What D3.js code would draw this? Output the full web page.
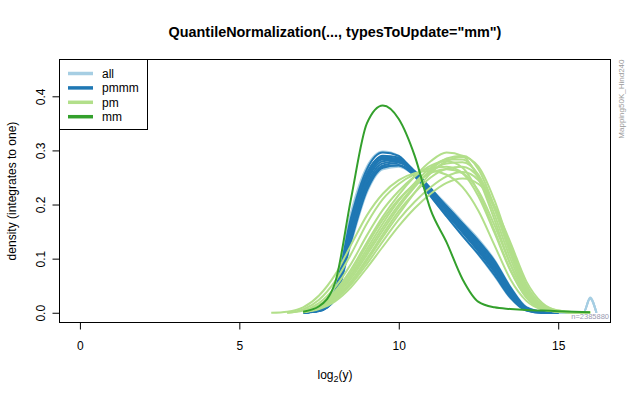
<!DOCTYPE html>
<html lang="en">
<head>
<meta charset="UTF-8">
<title>QuantileNormalization density</title>
<script src="https://d3js.org/d3.v7.min.js"></script>
<style>
    body { margin: 0; background: #fff; }
    svg { font-family: "Liberation Sans", Arial, sans-serif; display: block; }
    .curve { fill: none; stroke-width: 2; stroke-linejoin: round; }
</style>
</head>
<body>
<svg id="chart" width="640" height="395"></svg>
<script>
    // x grid (log2 units) shared by pmmm, pm and mm curves
    const xGrid = [6.0, 6.5, 7.0, 7.5, 8.0, 8.5, 9.0, 9.5, 10.0, 10.5, 11.0, 11.5,
                   12.0, 12.5, 13.0, 13.5, 14.0, 14.5, 15.0, 15.5, 16.0, 16.5];
    const n = null;

    const mmCurve = [n, n, 0.002, 0.012, 0.055, 0.21, 0.35, 0.383, 0.358, 0.29, 0.19, 0.13,
                     0.062, 0.02, 0.01, 0.007, 0.005, 0.004, 0.003, 0.002, 0.001, n];

    const pmmmCurves = [
        [n, n, 0, 0.006, 0.040, 0.175, 0.265, 0.296, 0.290, 0.255, 0.215, 0.178, 0.142, 0.108, 0.070, 0.028, 0.004, 0, 0, n, n, n],
        [n, n, 0, 0.005, 0.035, 0.165, 0.255, 0.290, 0.287, 0.258, 0.220, 0.183, 0.148, 0.113, 0.075, 0.031, 0.005, 0, 0, n, n, n],
        [n, n, 0, 0.005, 0.033, 0.158, 0.250, 0.285, 0.285, 0.260, 0.224, 0.188, 0.152, 0.118, 0.080, 0.035, 0.006, 0.001, 0, n, n, n],
        [n, n, 0, 0.004, 0.030, 0.150, 0.243, 0.280, 0.283, 0.262, 0.228, 0.192, 0.157, 0.122, 0.084, 0.038, 0.007, 0.001, 0, n, n, n],
        [n, n, 0, 0.004, 0.028, 0.142, 0.237, 0.276, 0.280, 0.260, 0.230, 0.195, 0.160, 0.126, 0.088, 0.041, 0.008, 0.001, 0, n, n, n],
        [n, n, 0, 0.004, 0.027, 0.138, 0.232, 0.272, 0.277, 0.258, 0.228, 0.196, 0.163, 0.130, 0.092, 0.044, 0.009, 0.001, 0, n, n, n],
        [n, n, 0, 0.003, 0.025, 0.132, 0.226, 0.268, 0.273, 0.255, 0.227, 0.197, 0.165, 0.133, 0.096, 0.047, 0.010, 0.002, 0, n, n, n],
        [n, n, 0, 0.005, 0.036, 0.168, 0.258, 0.288, 0.283, 0.252, 0.218, 0.183, 0.150, 0.116, 0.078, 0.033, 0.005, 0, 0, n, n, n],
        [n, n, 0, 0.004, 0.031, 0.152, 0.246, 0.283, 0.281, 0.257, 0.225, 0.190, 0.155, 0.121, 0.083, 0.037, 0.007, 0.001, 0, n, n, n],
        [n, n, 0, 0.003, 0.026, 0.136, 0.230, 0.270, 0.272, 0.253, 0.226, 0.196, 0.164, 0.131, 0.094, 0.045, 0.009, 0.001, 0, n, n, n]
    ];

    const pmCurves = [
        [0, 0.002, 0.010, 0.032, 0.070, 0.125, 0.180, 0.220, 0.245, 0.258, 0.262, 0.255, 0.232, 0.188, 0.125, 0.062, 0.022, 0.006, 0.002, 0.001, 0.0005, n],
        [n, 0, 0.006, 0.024, 0.058, 0.108, 0.165, 0.210, 0.238, 0.256, 0.267, 0.270, 0.258, 0.215, 0.148, 0.078, 0.028, 0.007, 0.002, 0.001, 0.0005, n],
        [n, 0, 0.004, 0.018, 0.047, 0.090, 0.143, 0.190, 0.225, 0.252, 0.272, 0.280, 0.268, 0.222, 0.152, 0.080, 0.029, 0.007, 0.002, 0.001, 0.0005, n],
        [n, n, 0.003, 0.014, 0.040, 0.080, 0.130, 0.178, 0.218, 0.252, 0.280, 0.296, 0.290, 0.248, 0.172, 0.090, 0.032, 0.008, 0.003, 0.001, 0.0005, n],
        [n, n, 0.002, 0.012, 0.034, 0.070, 0.118, 0.165, 0.207, 0.240, 0.268, 0.283, 0.283, 0.252, 0.182, 0.100, 0.037, 0.009, 0.003, 0.001, 0.0005, n],
        [n, n, 0.002, 0.010, 0.030, 0.063, 0.107, 0.152, 0.195, 0.232, 0.264, 0.285, 0.290, 0.265, 0.196, 0.110, 0.041, 0.010, 0.003, 0.001, 0.0005, n],
        [n, n, 0.002, 0.009, 0.027, 0.058, 0.100, 0.145, 0.188, 0.222, 0.250, 0.266, 0.270, 0.250, 0.195, 0.117, 0.046, 0.012, 0.003, 0.001, 0.0005, n],
        [n, n, 0.001, 0.008, 0.024, 0.052, 0.090, 0.132, 0.172, 0.205, 0.232, 0.252, 0.260, 0.245, 0.197, 0.124, 0.052, 0.015, 0.004, 0.001, 0.0005, n],
        [n, n, 0.001, 0.007, 0.021, 0.047, 0.083, 0.122, 0.160, 0.193, 0.220, 0.240, 0.248, 0.238, 0.197, 0.130, 0.058, 0.018, 0.004, 0.001, 0.0005, n],
        [n, n, 0.002, 0.011, 0.032, 0.067, 0.112, 0.158, 0.200, 0.235, 0.262, 0.276, 0.278, 0.255, 0.192, 0.110, 0.041, 0.010, 0.003, 0.001, 0.0005, n],
        [n, n, 0.003, 0.013, 0.037, 0.075, 0.125, 0.172, 0.210, 0.238, 0.258, 0.265, 0.258, 0.225, 0.162, 0.090, 0.034, 0.009, 0.003, 0.001, 0.0005, n],
        [n, n, 0.001, 0.008, 0.025, 0.055, 0.096, 0.140, 0.182, 0.222, 0.258, 0.280, 0.288, 0.270, 0.208, 0.122, 0.047, 0.012, 0.003, 0.001, 0.0005, n]
    ];

    // "all" curves have a small bump at the saturation point (16)
    const allGrid = [7.0, 7.5, 8.0, 8.5, 9.0, 9.5, 10.0, 10.5, 11.0, 11.5, 12.0, 12.5,
                     13.0, 13.5, 14.0, 14.5, 15.0, 15.5, 15.8, 16.0, 16.2];
    const allCurves = [
        [0, 0.007, 0.045, 0.185, 0.270, 0.298, 0.290, 0.256, 0.216, 0.178, 0.142, 0.107, 0.068, 0.027, 0.004, 0, 0, 0, 0.001, 0.028, 0],
        [0, 0.003, 0.024, 0.128, 0.222, 0.265, 0.270, 0.254, 0.229, 0.200, 0.168, 0.136, 0.098, 0.048, 0.011, 0.002, 0, 0, 0.001, 0.027, 0],
        [0, 0.005, 0.034, 0.158, 0.250, 0.284, 0.283, 0.258, 0.224, 0.190, 0.155, 0.121, 0.082, 0.036, 0.007, 0.001, 0, 0, 0.001, 0.026, 0]
    ];

    const groups = ["all", "pmmm", "pm", "mm"];
    const xTicks = [0, 5, 10, 15];
    const yTicks = [0, 0.1, 0.2, 0.3, 0.4];
    const titleText = 'QuantileNormalization(..., typesToUpdate="mm")';
    const chipType = "Mapping50K_Hind240";
    const sizeText = "n=2385880";

    const color = d3.scaleOrdinal()
        .domain(groups)
        .range(["#a6cee3", "#1f78b4", "#b2df8a", "#33a02c"]);

    const svg = d3.select("#chart");
    const pLeft = 59.5, pRight = 610.5, pTop = 59.5, pBottom = 322.5;

    // xlim = c(0,16), ylim = c(0,0.45) with R's 4% extension
    const x = d3.scaleLinear().domain([-0.64, 16.64]).range([pLeft, pRight]);
    const y = d3.scaleLinear().domain([-0.018, 0.468]).range([pBottom, pTop]);

    const line = d3.line()
        .defined(d => d[1] !== null)
        .x(d => x(d[0]))
        .y(d => y(d[1]))
        .curve(d3.curveMonotoneX);

    function drawCurves(grid, curves, key) {
        svg.append("g")
            .selectAll("path")
            .data(curves)
            .enter()
            .append("path")
            .attr("class", "curve")
            .attr("stroke", color(key))
            .attr("d", c => line(grid.map((v, i) => [v, c[i]])));
    }

    drawCurves(allGrid, allCurves, "all");
    drawCurves(xGrid, pmmmCurves, "pmmm");
    drawCurves(xGrid, pmCurves, "pm");
    drawCurves(xGrid, [mmCurve], "mm");

    // plot box
    svg.append("rect")
        .attr("x", pLeft).attr("y", pTop)
        .attr("width", pRight - pLeft).attr("height", pBottom - pTop)
        .attr("fill", "none").attr("stroke", "#000");

    // axes
    const xAxis = svg.append("g")
        .attr("transform", `translate(0,${pBottom})`)
        .call(d3.axisBottom(x).tickValues(xTicks).tickSize(7).tickSizeOuter(0).tickFormat(d3.format("d")));
    xAxis.select(".domain").remove();
    xAxis.selectAll("text")
        .attr("y", 27).attr("dy", null)
        .style("font-size", "12px").attr("fill", "#000");

    const yAxis = svg.append("g")
        .attr("transform", `translate(${pLeft},0)`)
        .call(d3.axisLeft(y).tickValues(yTicks).tickSize(7).tickSizeOuter(0).tickFormat(d3.format(".1f")));
    yAxis.select(".domain").remove();
    yAxis.selectAll("text")
        .attr("x", null).attr("dy", null)
        .attr("text-anchor", "middle")
        .attr("transform", "translate(-15,0) rotate(-90)")
        .style("font-size", "12px").attr("fill", "#000");

    // titles
    svg.append("text")
        .attr("x", (pLeft + pRight) / 2).attr("y", 37)
        .attr("text-anchor", "middle")
        .style("font-size", "14.4px").style("font-weight", "bold")
        .text(titleText);

    const xLab = svg.append("text")
        .attr("x", (pLeft + pRight) / 2).attr("y", 379)
        .attr("text-anchor", "middle")
        .style("font-size", "12px");
    xLab.append("tspan").text("log");
    xLab.append("tspan").attr("dy", 3).style("font-size", "9px").text("2");
    xLab.append("tspan").attr("dy", -3).text("(y)");

    svg.append("text")
        .attr("transform", `translate(16,${(pTop + pBottom) / 2}) rotate(-90)`)
        .attr("text-anchor", "middle")
        .style("font-size", "12px")
        .text("density (integrates to one)");

    // chip type and size stamps
    svg.append("text")
        .attr("transform", `translate(624,${pTop}) rotate(-90)`)
        .attr("text-anchor", "end")
        .style("font-size", "8px").attr("fill", "#999")
        .text(chipType);

    svg.append("text")
        .attr("x", pRight - 1.5).attr("y", 319)
        .attr("text-anchor", "end")
        .style("font-size", "7.5px").attr("fill", "#9a9ab0")
        .text(sizeText);

    // legend
    const legend = svg.append("g");
    legend.append("rect")
        .attr("x", pLeft).attr("y", pTop)
        .attr("width", 88).attr("height", 70)
        .attr("fill", "#fff").attr("stroke", "#000");

    groups.forEach((g, i) => {
        const ly = 73.5 + i * 14.4;
        legend.append("line")
            .attr("x1", 68).attr("x2", 93)
            .attr("y1", ly).attr("y2", ly)
            .attr("stroke", color(g)).attr("stroke-width", 3.5);
        legend.append("text")
            .attr("x", 102).attr("y", ly + 4.5)
            .style("font-size", "12px")
            .text(g);
    });
</script>
</body>
</html>
